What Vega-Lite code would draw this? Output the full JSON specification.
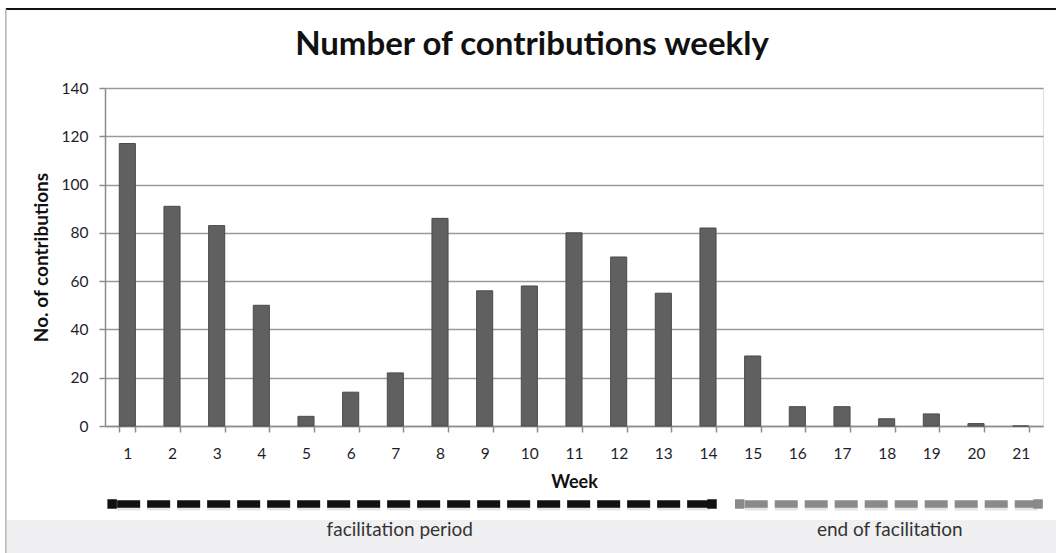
{
  "$schema": "https://vega.github.io/schema/vega-lite/v6.json",
  "width": 938,
  "height": 338,
  "autosize": {"type": "none"},
  "padding": {"left": 105, "top": 88, "right": 13, "bottom": 127},
  "background": "white",
  "title": {
    "text": "Number of contributions weekly",
    "font": "Lato",
    "fontSize": 33,
    "fontWeight": "bold",
    "color": "#111111",
    "anchor": "middle",
    "baseline": "alphabetic",
    "dx": -42,
    "offset": -80
  },
  "datasets": {
    "weekly": [
      {"week": 1, "contributions": 117},
      {"week": 2, "contributions": 91},
      {"week": 3, "contributions": 83},
      {"week": 4, "contributions": 50},
      {"week": 5, "contributions": 4},
      {"week": 6, "contributions": 14},
      {"week": 7, "contributions": 22},
      {"week": 8, "contributions": 86},
      {"week": 9, "contributions": 56},
      {"week": 10, "contributions": 58},
      {"week": 11, "contributions": 80},
      {"week": 12, "contributions": 70},
      {"week": 13, "contributions": 55},
      {"week": 14, "contributions": 82},
      {"week": 15, "contributions": 29},
      {"week": 16, "contributions": 8},
      {"week": 17, "contributions": 8},
      {"week": 18, "contributions": 3},
      {"week": 19, "contributions": 5},
      {"week": 20, "contributions": 1},
      {"week": 21, "contributions": 0}
    ],
    "phases": [
      {"phase": "facilitation period", "start": 0.66, "end": 14.09, "mid": 7.1},
      {"phase": "end of facilitation", "start": 14.71, "end": 21.39, "mid": 18.07}
    ]
  },
  "layer": [
    {
      "data": {"name": "weekly"},
      "mark": {"type": "bar", "color": "#606060", "stroke": "#4a4a4a", "strokeWidth": 1},
      "encoding": {
        "x": {
          "field": "week",
          "type": "ordinal",
          "scale": {"paddingInner": 0.64, "paddingOuter": 0.32},
          "axis": {
            "title": "Week",
            "labelAngle": 0,
            "tickBand": "extent",
            "tickSize": 6,
            "tickColor": "#8c8c8c",
            "tickWidth": 1.5,
            "domainColor": "#8c8c8c",
            "domainWidth": 1.5,
            "grid": false,
            "labelFont": "Lato",
            "labelFontSize": 15.5,
            "labelColor": "#1e1e2a",
            "labelBaseline": "middle",
            "labelPadding": 21,
            "titleFont": "Lato",
            "titleFontSize": 18,
            "titleFontWeight": "bold",
            "titleColor": "#111111",
            "titleY": 56,
            "titleBaseline": "middle"
          }
        },
        "y": {
          "field": "contributions",
          "type": "quantitative",
          "scale": {"domain": [0, 140], "nice": false},
          "axis": {
            "title": "No. of contributions",
            "values": [0, 20, 40, 60, 80, 100, 120, 140],
            "grid": true,
            "gridColor": "#9a9a9a",
            "gridWidth": 1.5,
            "domainColor": "#8c8c8c",
            "domainWidth": 1.5,
            "tickColor": "#8c8c8c",
            "tickWidth": 1.5,
            "tickSize": 6,
            "labelPadding": 11,
            "labelFont": "Lato",
            "labelFontSize": 15.5,
            "labelColor": "#1e1e2a",
            "titleFont": "Lato",
            "titleFontSize": 19,
            "titleFontWeight": "bold",
            "titleColor": "#111111",
            "titleAngle": -90,
            "titleX": -64,
            "titleY": 169,
            "titleAlign": "center",
            "titleBaseline": "middle"
          }
        }
      }
    },
    {
      "layer": [
        {
          "data": {"values": [{}]},
          "mark": {"type": "rect", "color": "#f0f0f2"},
          "encoding": {
            "x": {"datum": -1.7, "type": "quantitative", "scale": {"domain": [0.5, 21.5], "nice": false, "zero": false}, "axis": null},
            "x2": {"datum": 22.5},
            "y": {"datum": -38.9, "type": "quantitative"},
            "y2": {"datum": -60}
          }
        },
        {
          "data": {"name": "phases"},
          "mark": {"type": "text", "font": "Lato", "fontSize": 19, "color": "#333333"},
          "encoding": {
            "x": {"field": "mid", "type": "quantitative", "axis": null},
            "y": {"datum": -43.1, "type": "quantitative"},
            "text": {"field": "phase"}
          }
        },
        {
          "data": {"name": "phases"},
          "mark": {"type": "rule", "strokeWidth": 7, "strokeDash": [23, 7], "strokeDashOffset": 25, "strokeCap": "butt", "color": "#000000", "opacity": 0.1},
          "encoding": {
            "x": {"field": "start", "type": "quantitative", "axis": null},
            "x2": {"field": "end"},
            "y": {"datum": -33.6, "type": "quantitative"}
          }
        },
        {
          "data": {"name": "phases"},
          "mark": {"type": "rule", "strokeWidth": 7.5, "strokeDash": [23, 7], "strokeDashOffset": 25, "strokeCap": "butt"},
          "encoding": {
            "x": {"field": "start", "type": "quantitative", "axis": null},
            "x2": {"field": "end"},
            "y": {"datum": -32.3, "type": "quantitative"},
            "color": {"field": "phase", "type": "nominal", "scale": {"domain": ["facilitation period", "end of facilitation"], "range": ["#111111", "#8a8a8a"]}, "legend": null}
          }
        },
        {
          "data": {"name": "phases"},
          "transform": [{"fold": ["start", "end"], "as": ["endpoint", "pos"]}],
          "mark": {"type": "point", "shape": "square", "filled": true, "size": 90, "opacity": 1},
          "encoding": {
            "x": {"field": "pos", "type": "quantitative", "axis": null},
            "y": {"datum": -32.3, "type": "quantitative"},
            "color": {"field": "phase", "type": "nominal", "legend": null}
          }
        },
        {
          "data": {"values": [{}]},
          "mark": {"type": "rule", "color": "#111111", "strokeWidth": 2},
          "encoding": {
            "x": {"datum": -1.72, "type": "quantitative", "axis": null},
            "x2": {"datum": 22.5},
            "y": {"datum": 172.7, "type": "quantitative"}
          }
        },
        {
          "data": {"values": [{}]},
          "mark": {"type": "rule", "color": "#b4b4b4", "strokeWidth": 1.5},
          "encoding": {
            "x": {"datum": -1.72, "type": "quantitative", "axis": null},
            "y": {"datum": 172.7, "type": "quantitative"},
            "y2": {"datum": -60}
          }
        }
      ]
    }
  ],
  "resolve": {"scale": {"x": "independent"}}
}
